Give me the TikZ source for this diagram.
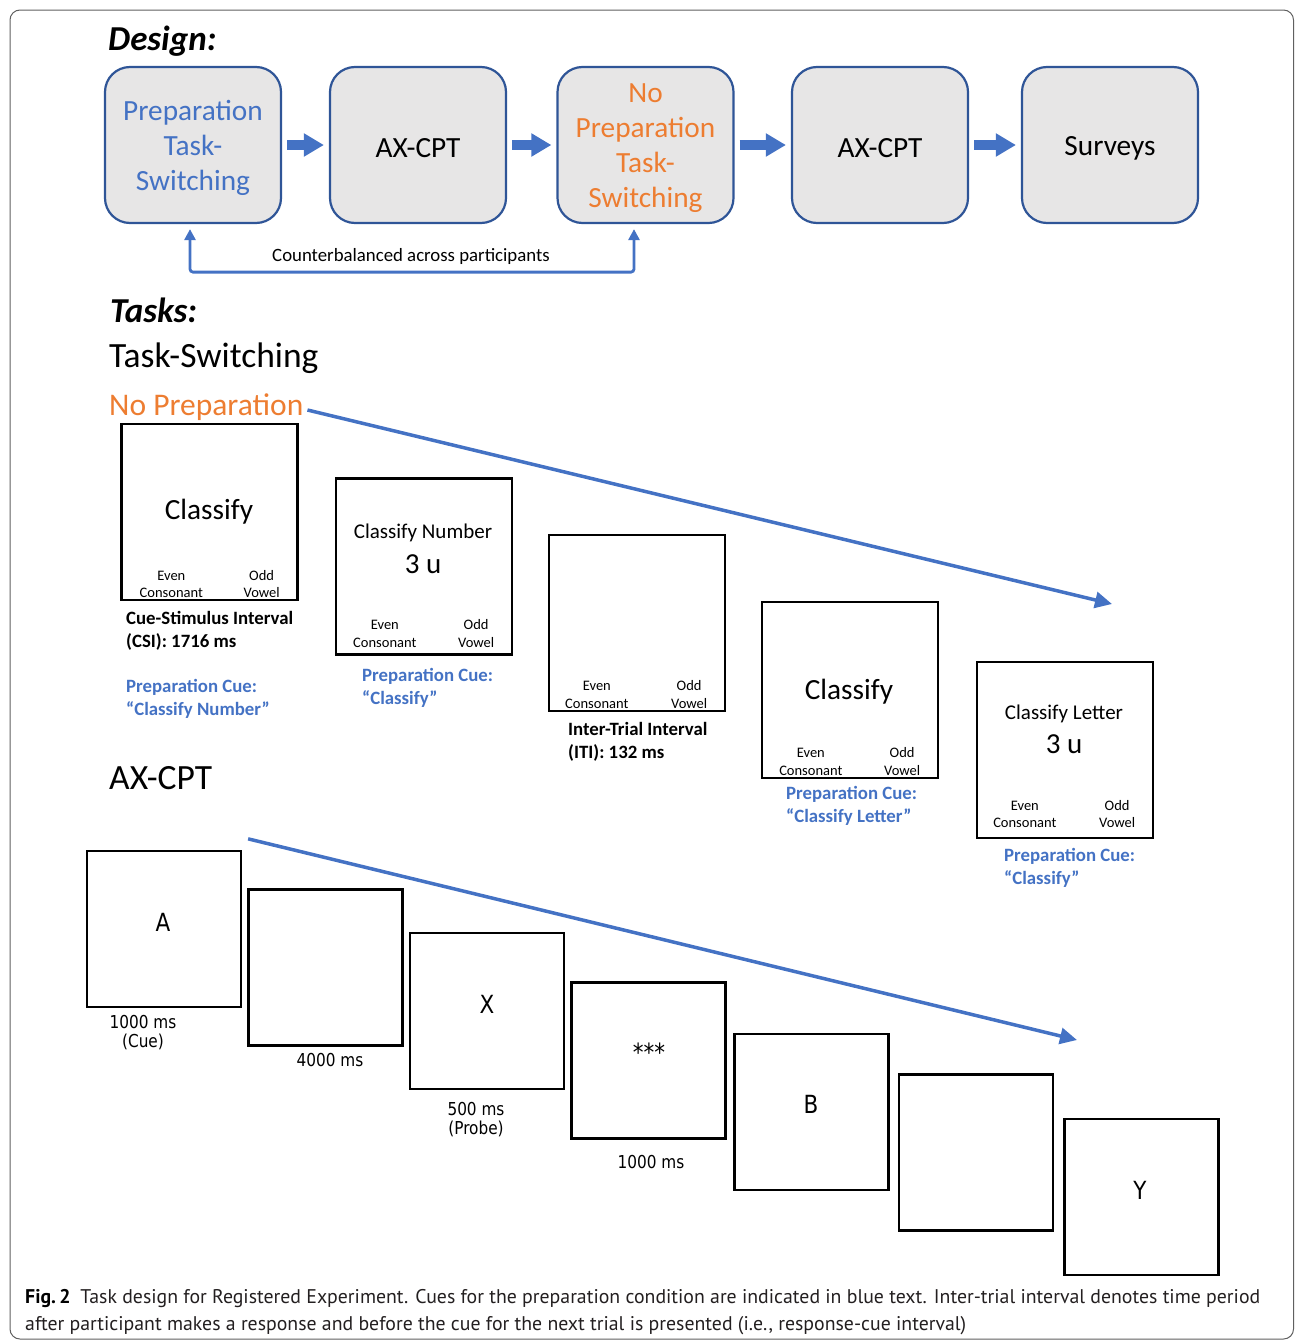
\documentclass[tikz,border=0pt]{standalone}
\usepackage{fontspec}
\setmainfont{Carlito}
\newfontfamily\tahoma[FakeStretch=0.86]{DejaVu Sans}
\newfontfamily\capfont{PT Sans}
\usetikzlibrary{arrows.meta,calc}
\definecolor{pblue}{HTML}{4472C4}
\definecolor{porange}{HTML}{ED7D31}
\definecolor{dblue}{HTML}{2F5597}
\definecolor{bgray}{HTML}{E7E6E6}
\definecolor{capgray}{HTML}{231F20}
\definecolor{framegray}{HTML}{606060}
\newcommand{\fsz}[2]{\fontsize{#1}{#2}\selectfont}
\begin{document}
\begin{tikzpicture}[x=1pt,y=-1pt,
  designbox/.style={draw=dblue, line width=2.2pt, fill=bgray, rounded corners=25pt,
    minimum width=176pt, minimum height=156pt, inner sep=0pt},
  designtext/.style={align=center, inner sep=0pt, font=\fsz{29.3}{35}},
  blockarrow/.style={draw=pblue, line width=10pt, -{Triangle[length=20pt,width=22pt]}},
  heading/.style={anchor=west, inner sep=0pt, font=\bfseries\itshape\fsz{35}{40}},
  subhead/.style={anchor=west, inner sep=0pt, font=\fsz{35.5}{40}},
  tsbox/.style={draw=black, line width=2.3pt, minimum size=176pt, inner sep=0pt},
  axbox/.style={draw=black, line width=2.3pt, minimum width=154pt, minimum height=156pt, inner sep=0pt},
  eo/.style={align=center, font=\fsz{14.5}{17.5}, inner sep=0pt},
  lab/.style={align=left, font=\bfseries\fsz{18.8}{23}, inner sep=0pt, anchor=west},
  cue/.style={lab, text=pblue},
  diag/.style={draw=pblue, line width=3.5pt, -{Triangle[length=17pt,width=16pt]}},
  axlet/.style={inner sep=0pt, font=\tahoma\fsz{25}{28}},
  axlab/.style={inner sep=0pt, align=center, font=\tahoma\fsz{17.8}{19}}
]
\useasboundingbox (0,0) rectangle (1295,1341);
\draw[framegray, line width=1pt, rounded corners=10pt] (10,10) rectangle (1293.5,1339);

% ---------- Design ----------
\node[heading] (design) at (108,41) {Design:};
\node[designbox] (d1) at (193,145) {};
\node[designbox] (d2) at (418,145) {};
\node[designbox] (d3) at (645.5,145) {};
\node[designbox] (d4) at (880,145) {};
\node[designbox] (d5) at (1110,145) {};
\node[designtext, text=pblue] (d1t) at ([shift={(0,3)}]d1.center) {Preparation\\Task-\\Switching};
\node[designtext] (d2t) at ([shift={(0,3)}]d2.center) {AX-CPT};
\node[designtext, text=porange] (d3t) at ([shift={(0,3)}]d3.center) {No\\Preparation\\Task-\\Switching};
\node[designtext] (d4t) at ([shift={(0,3)}]d4.center) {AX-CPT};
\node[designtext] (d5t) at ([shift={(0,3)}]d5.center) {Surveys};
\draw[blockarrow] ([shift={(5,0)}]d1.east) -- ([shift={(-5,0)}]d2.west);
\draw[blockarrow] ([shift={(5,0)}]d2.east) -- ([shift={(-5,0)}]d3.west);
\draw[blockarrow] ([shift={(5,0)}]d3.east) -- ([shift={(-5,0)}]d4.west);
\draw[blockarrow] ([shift={(5,0)}]d4.east) -- ([shift={(-5,0)}]d5.west);
\draw[pblue, line width=2.8pt, rounded corners=3pt,
  {Triangle[length=11pt,width=11pt]}-{Triangle[length=11pt,width=11pt]}]
  ([shift={(-3,5)}]d1.south) -- ++(0,43) -| ([shift={(-11.5,5)}]d3.south);
\node[font=\fsz{18.8}{20}, inner sep=0pt] (cb) at (411,256) {Counterbalanced across participants};

% ---------- Tasks ----------
\node[heading] (tasks) at (110,310) {Tasks:};
\node[subhead] (ts) at (109,358) {Task-Switching};
\node[anchor=west, inner sep=0pt, font=\fsz{31.5}{36}, text=porange] (np) at (109,407) {No Preparation};
\coordinate (npend) at (1112,604);
\draw[diag] ([shift={(4,3)}]np.east) -- (npend);

\node[tsbox] (t1) at (209.5,512) {};
\node[tsbox] (t2) at (424,566.5) {};
\node[tsbox] (t3) at (637,623) {};
\node[tsbox] (t4) at (850,690) {};
\node[tsbox] (t5) at (1065,750) {};

\node[inner sep=0pt, font=\fsz{29.3}{30}] (t1c) at (209,512) {Classify};
\node[inner sep=0pt, font=\fsz{21}{24}] (t2c) at (423,533) {Classify Number};
\node[inner sep=0pt, font=\fsz{29}{30}] (t2n) at (423,564) {3 u};
\node[inner sep=0pt, font=\fsz{29.3}{30}] (t4c) at (849,692) {Classify};
\node[inner sep=0pt, font=\fsz{21}{24}] (t5c) at (1064,714) {Classify Letter};
\node[inner sep=0pt, font=\fsz{29}{30}] (t5n) at (1064,744) {3 u};

\node[eo] (t1e) at ([shift={(51,-17)}]t1.south west) {Even\\Consonant};
\node[eo] (t1o) at ([shift={(-37,-17)}]t1.south east) {Odd\\Vowel};
\node[eo] (t2e) at ([shift={(50,-22)}]t2.south west) {Even\\Consonant};
\node[eo] (t2o) at ([shift={(-37,-22)}]t2.south east) {Odd\\Vowel};
\node[eo] (t3e) at ([shift={(49,-17.5)}]t3.south west) {Even\\Consonant};
\node[eo] (t3o) at ([shift={(-37,-17.5)}]t3.south east) {Odd\\Vowel};
\node[eo] (t4e) at ([shift={(50,-17.5)}]t4.south west) {Even\\Consonant};
\node[eo] (t4o) at ([shift={(-37,-17.5)}]t4.south east) {Odd\\Vowel};
\node[eo] (t5e) at ([shift={(49,-25)}]t5.south west) {Even\\Consonant};
\node[eo] (t5o) at ([shift={(-37,-25)}]t5.south east) {Odd\\Vowel};

\node[lab] (t1l) at (126,630.5) {Cue-Stimulus Interval\\(CSI): 1716 ms};
\node[cue] (t1p) at (126,699) {Preparation Cue:\\“Classify Number”};
\node[cue] (t2p) at (362,688) {Preparation Cue:\\“Classify”};
\node[lab] (t3l) at (568,741.5) {Inter-Trial Interval\\(ITI): 132 ms};
\node[cue] (t4p) at (786,805.5) {Preparation Cue:\\“Classify Letter”};
\node[cue] (t5p) at (1004,867.5) {Preparation Cue:\\“Classify”};

% ---------- AX-CPT ----------
\node[subhead] (ax) at (109,778) {AX-CPT};
\node[axbox] (a1) at (164,929) {};
\node[axbox] (a2) at (325.5,967.5) {};
\node[axbox] (a3) at (487,1011) {};
\node[axbox] (a4) at (648.5,1060.5) {};
\node[axbox] (a5) at (811.5,1112) {};
\node[axbox] (a6) at (976,1152.5) {};
\node[axbox] (a7) at (1141.5,1197) {};
\coordinate (axend) at (1077,1040);
\draw[diag] ([shift={(6,-11)}]a1.north east) -- (axend);

\node[axlet] (a1t) at (163,922) {A};
\node[axlet] (a3t) at (487,1004) {X};
\node[axlet] (a4t) at (649,1052) {***};
\node[axlet] (a5t) at (811,1104) {B};
\node[axlet] (a7t) at (1140,1190) {Y};

\node[axlab] (a1l) at (143,1032.5) {1000 ms\\(Cue)};
\node[axlab] (a2l) at (330,1060) {4000 ms};
\node[axlab] (a3l) at (476,1119.5) {500 ms\\(Probe)};
\node[axlab] (a4l) at (651,1162) {1000 ms};

% ---------- Caption ----------
\node[anchor=west, inner sep=0pt, align=left, text=capgray, font=\capfont\fsz{19.8}{27}] (cap) at (25,1312)
  {\textcolor{black}{\bfseries Fig.\,2}\enspace Task design for Registered Experiment. Cues for the preparation condition are indicated in blue text. Inter-trial interval denotes time period\\after participant makes a response and before the cue for the next trial is presented (i.e., response-cue interval)};
\end{tikzpicture}
\end{document}
